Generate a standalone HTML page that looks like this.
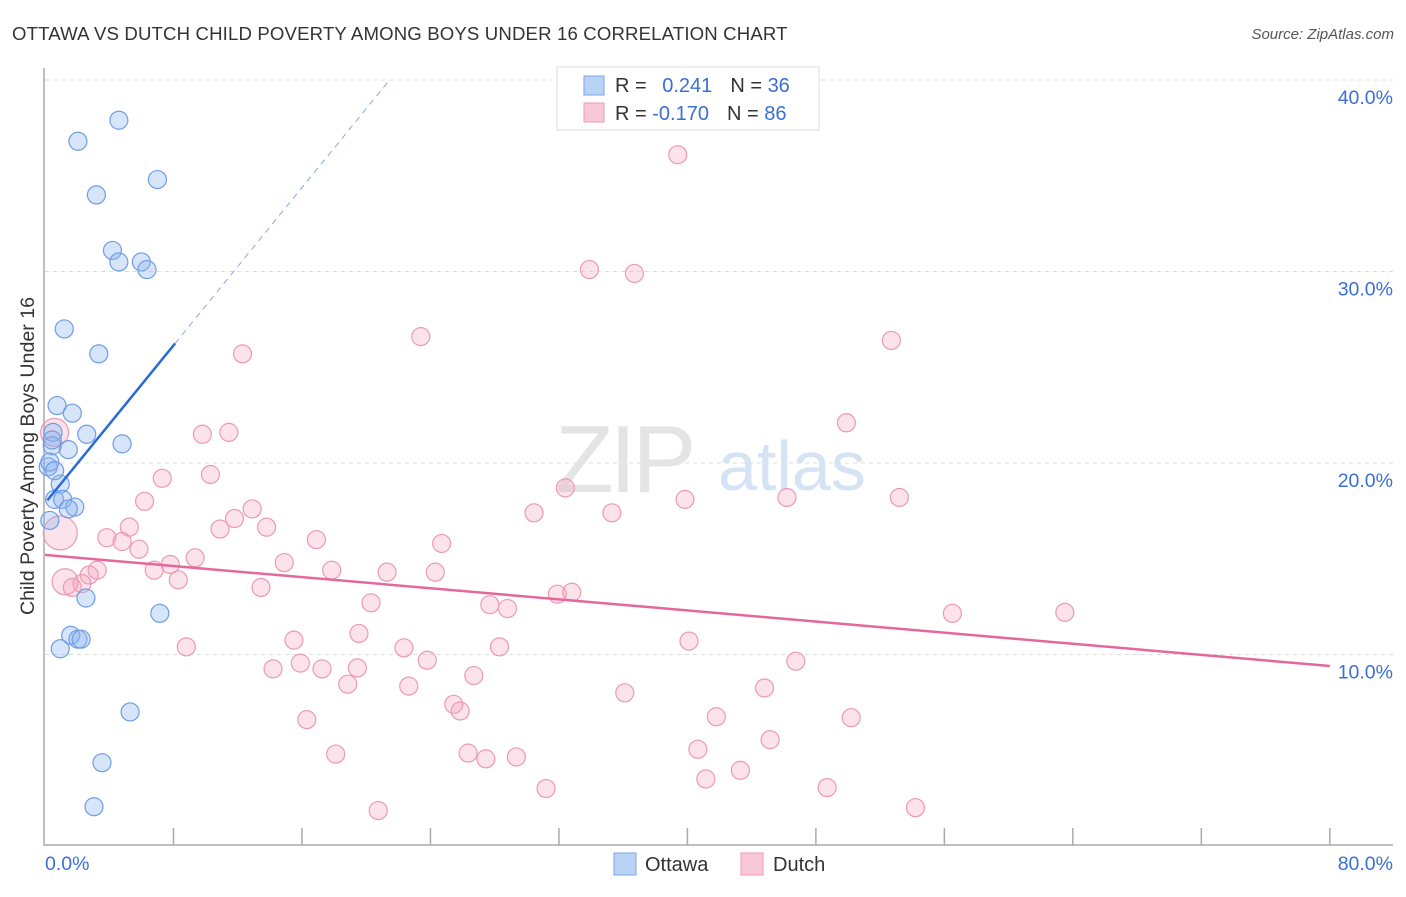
<!DOCTYPE html>
<html><head><meta charset="utf-8"><style>
body{margin:0;background:#fff;font-family:"Liberation Sans",sans-serif;}
svg text{font-family:"Liberation Sans",sans-serif;}
</style></head><body>
<svg width="1406" height="892" xmlns="http://www.w3.org/2000/svg">
<text x="12" y="40" font-size="18.6" fill="#333" letter-spacing="0.15">OTTAWA VS DUTCH CHILD POVERTY AMONG BOYS UNDER 16 CORRELATION CHART</text>
<text x="1394" y="39" font-size="15" fill="#555" text-anchor="end" font-style="italic">Source: ZipAtlas.com</text>
<g id="grid"></g>
<g>
<text x="555" y="492" font-size="96" fill="#e4e4e4" font-family="Liberation Serif" letter-spacing="-4">ZIP</text>
<text x="718" y="490" font-size="70" fill="#d6e3f5">atlas</text>
</g>
<g id="axes"></g>
<g id="marks"></g>
<g id="trends"></g>
<text transform="translate(34,456) rotate(-90)" font-size="19.6" fill="#333" text-anchor="middle">Child Poverty Among Boys Under 16</text>
<g>
<rect x="557" y="67" width="262" height="63" fill="#fff" stroke="#ddd"/>
<rect x="584" y="76" width="20" height="19" fill="#b9d3f5" stroke="#7aa6e6"/>
<rect x="584" y="103" width="20" height="19" fill="#f9c8d6" stroke="#ee9ab3"/>
<text x="615" y="92" font-size="20" fill="#333">R = <tspan fill="#3a6fd8" dx="10">0.241</tspan><tspan dx="18" fill="#333">N = </tspan><tspan fill="#3a6fd8">36</tspan></text>
<text x="615" y="120" font-size="20" fill="#333">R = <tspan fill="#3a6fd8">-0.170</tspan><tspan dx="18" fill="#333">N = </tspan><tspan fill="#3a6fd8">86</tspan></text>
</g>
<g>
<rect x="614" y="853" width="22" height="22" fill="#b9d3f5" stroke="#7aa6e6"/>
<text x="645" y="871" font-size="20" fill="#333">Ottawa</text>
<rect x="741" y="853" width="22" height="22" fill="#f9c8d6" stroke="#ee9ab3"/>
<text x="773" y="871" font-size="20" fill="#333">Dutch</text>
</g>
</svg>
<script>
const yTicks=[10,20,30,40];
const yTickLabels=["10.0%","20.0%","30.0%","40.0%"];
const xTicks=[8,16,24,32,40,48,56,64,72,80];
const ottawaX=[4.6,2.05,3.2,7.0,4.2,4.6,6.0,6.35,1.2,3.35,0.75,1.7,2.6,0.5,4.8,1.45,0.45,0.2,0.3,0.95,0.6,1.1,1.85,1.45,2.55,7.15,1.6,2.05,2.25,0.95,5.3,3.55,3.05,0.45,0.3,0.6];
const ottawaY=[37.9,36.8,34.0,34.8,31.1,30.5,30.5,30.1,27.0,25.7,23.0,22.6,21.5,21.6,21.0,20.7,20.9,19.8,20.05,18.9,18.1,18.1,17.7,17.6,12.95,12.15,11.0,10.8,10.8,10.3,7.0,4.35,2.05,21.2,17.0,19.6];
const dutchX=[39.4,33.9,36.7,23.4,52.7,12.3,49.9,9.8,11.45,10.3,7.3,32.4,6.2,39.85,46.2,53.2,30.45,35.3,12.9,11.8,10.9,13.8,5.25,3.85,4.8,5.85,16.9,24.7,9.35,7.8,14.9,6.8,17.85,21.3,24.3,3.25,2.75,8.3,2.3,13.45,1.7,31.9,32.8,20.3,27.7,28.8,56.5,63.5,19.55,15.5,40.1,8.8,22.35,28.3,46.75,23.8,15.9,19.45,14.2,17.25,26.7,18.85,22.65,44.8,36.1,25.45,25.85,41.8,50.2,16.3,40.65,18.1,26.35,27.45,29.35,45.15,43.3,41.15,31.2,48.7,20.75,54.2,0.95,1.25,0.6];
const dutchY=[36.1,30.1,29.9,26.6,26.4,25.7,22.1,21.5,21.6,19.4,19.2,18.7,18.0,18.1,18.2,18.2,17.4,17.4,17.6,17.1,16.55,16.65,16.65,16.1,15.9,15.5,16.0,15.8,15.05,14.7,14.8,14.4,14.4,14.3,14.3,14.4,14.15,13.9,13.7,13.5,13.5,13.15,13.25,12.7,12.6,12.4,12.15,12.2,11.1,10.75,10.7,10.4,10.35,10.4,9.65,9.7,9.55,9.3,9.25,9.25,8.9,8.45,8.35,8.25,8.0,7.4,7.05,6.75,6.7,6.6,5.05,4.8,4.85,4.55,4.65,5.55,3.95,3.5,3.0,3.05,1.85,2.0,16.35,13.8,21.6];
const dutchR=[];for(let i=0;i<dutchX.length;i++)dutchR.push(9);dutchR[82]=17;dutchR[83]=13;dutchR[84]=14;
const ottawaTrend=[0.15,8.1,17.9,1.03];
const dutchTrend=[0,80,15.2,9.4];
const NS="http://www.w3.org/2000/svg";
const X=v=>45+v*16.06, Y=v=>846-v*19.15;
function mk(t,a,p){const e=document.createElementNS(NS,t);for(const k in a)e.setAttribute(k,a[k]);document.getElementById(p).appendChild(e);return e;}
yTicks.forEach((t,i)=>{
 const l=mk('line',{x1:45,x2:1393,y1:Y(t),y2:Y(t),stroke:'#ddd','stroke-dasharray':'4,4'},'grid');
 
 
 const tx=mk('text',{x:1393,y:Y(t)+24,'font-size':19.5,fill:'#3a6fd8','text-anchor':'end'},'axes');
 tx.textContent=yTickLabels[i];
 
 
});
const ax=mk('path',{d:'M44,68V845H1393',fill:'none',stroke:'#aaa','stroke-width':1.5},'axes');


xTicks.forEach(t=>{const l=mk('line',{x1:X(t),x2:X(t),y1:828,y2:845,stroke:'#aaa','stroke-width':1.5},'axes');
 
 });
const x0=mk('text',{x:45,y:870,'font-size':19.5,fill:'#3a6fd8'},'axes');x0.textContent='0.0%';


const x1=mk('text',{x:1393,y:870,'font-size':19.5,fill:'#3a6fd8','text-anchor':'end'},'axes');x1.textContent='80.0%';


dutchX.forEach((v,i)=>{const c=mk('circle',{cx:X(v),cy:Y(dutchY[i]),r:dutchR[i],fill:'rgba(245,160,185,0.3)',stroke:'#ec9ab2','stroke-width':1.2},'marks');
 
 });
ottawaX.forEach((v,i)=>{const c=mk('circle',{cx:X(v),cy:Y(ottawaY[i]),r:9,fill:'rgba(140,180,240,0.35)',stroke:'#6f9de3','stroke-width':1.2},'marks');
 
 });
const [a0,a1,ai,as]=ottawaTrend;
const xe=(40-ai)/as;
const bs=mk('line',{x1:X(a0),y1:Y(ai+as*a0),x2:X(a1),y2:Y(ai+as*a1),stroke:'#2a6ad8','stroke-width':2.5},'trends');


const bd=mk('line',{x1:X(a1),y1:Y(ai+as*a1),x2:X(xe),y2:Y(40),stroke:'#8aa8e0','stroke-width':1,'stroke-dasharray':'6,5'},'trends');


const pl=mk('line',{x1:X(dutchTrend[0]),y1:Y(dutchTrend[2]),x2:X(dutchTrend[1]),y2:Y(dutchTrend[3]),stroke:'#e4689a','stroke-width':2.5},'trends');


</script>
</body></html>
